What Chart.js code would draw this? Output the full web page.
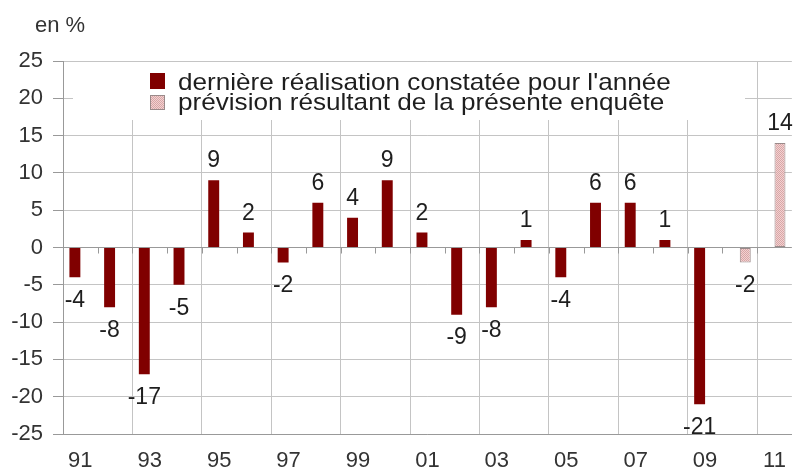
<!DOCTYPE html>
<html lang="fr">
<head>
<meta charset="utf-8">
<title>en %</title>
<script src="https://cdn.jsdelivr.net/npm/chart.js@4.4.1/dist/chart.umd.min.js"></script>
<style>
  html, body { margin: 0; padding: 0; background: #fff; overflow: hidden; }
  #cadre { width: 800px; height: 472px; }
</style>
</head>
<body>
<div id="cadre"><canvas id="graphique" width="800" height="472"></canvas></div>
<script>
// années (libellé affiché une année sur deux)
const annees = ['91', '92', '93', '94', '95', '96', '97', '98', '99', '00', '01',
                '02', '03', '04', '05', '06', '07', '08', '09', '10', '11'];
// dernière réalisation constatée pour l'année
const realisation = [-4, -8, -17, -5, 9, 2, -2, 6, 4, 9, 2, -9, -8, 1, -4, 6, 6, 1, -21, null, null];
// prévision résultant de la présente enquête
const prevision = [null, null, null, null, null, null, null, null, null, null, null,
                   null, null, null, null, null, null, null, null, -2, 14];
// graduations de l'axe vertical
const graduations = [-25, -20, -15, -10, -5, 0, 5, 10, 15, 20, 25];
const legendes = ["dernière réalisation constatée pour l'année",
                  'prévision résultant de la présente enquête'];

const police = '"Liberation Sans", Arial, sans-serif';
Chart.defaults.font.family = police;

// motif pointillé rose pour la prévision
const pc = document.createElement('canvas');
pc.width = 2; pc.height = 2;
const pctx = pc.getContext('2d');
pctx.fillStyle = '#f2d2d2';
pctx.fillRect(0, 0, 2, 2);
pctx.fillStyle = '#d9a6a6';
pctx.fillRect(0, 0, 1, 1);
pctx.fillRect(1, 1, 1, 1);
const motif = pctx.createPattern(pc, 'repeat');

// petites graduations sur la ligne du zéro + cartouche de légende
const decor = {
    id: 'decor',
    beforeDatasetsDraw(chart) {
        const ctx = chart.ctx;
        const x = chart.scales.x;
        const y0 = chart.scales.y.getPixelForValue(0);
        ctx.save();
        ctx.strokeStyle = '#999';
        ctx.lineWidth = 1;
        for (let i = 1; i < annees.length; i++) {
            const px = Math.round((x.getPixelForValue(i - 1) + x.getPixelForValue(i)) / 2) + 0.5;
            ctx.beginPath();
            ctx.moveTo(px, y0);
            ctx.lineTo(px, y0 + 6);
            ctx.stroke();
        }

        // cartouche blanc
        ctx.fillStyle = '#fff';
        ctx.fillRect(73, 62, 672, 58);
        ctx.fillStyle = '#800000';
        ctx.fillRect(150, 73, 15, 16);
        ctx.fillStyle = motif;
        ctx.fillRect(150, 95, 15, 15);
        ctx.strokeStyle = '#9a8a8a';
        ctx.strokeRect(150.5, 95.5, 14, 14);
        ctx.fillStyle = '#1e1e1e';
        ctx.font = '24px ' + police;
        ctx.textAlign = 'left';
        ctx.textBaseline = 'alphabetic';
        // texte un peu élargi comme sur l'original
        ctx.save();
        ctx.translate(178, 0);
        ctx.scale(1.088, 1);
        ctx.fillText(legendes[0], 0, 90);
        ctx.fillText(legendes[1], 0, 110);
        ctx.restore();

        ctx.font = '22px ' + police;
        ctx.fillStyle = '#333';
        ctx.fillText('en %', 35, 32);
        ctx.restore();
    }
};

// valeurs au bout des barres
const etiquettes = {
    id: 'etiquettes',
    afterDatasetsDraw(chart) {
        const ctx = chart.ctx;
        ctx.save();
        ctx.font = '23px ' + police;
        ctx.fillStyle = '#1e1e1e';
        ctx.textAlign = 'center';
        chart.data.datasets.forEach((ds, i) => {
            chart.getDatasetMeta(i).data.forEach((barre, j) => {
                const v = ds.data[j];
                if (v === null) return;
                if (v >= 0) {
                    ctx.textBaseline = 'alphabetic';
                    ctx.fillText(String(v), barre.x, barre.y - 13);
                } else {
                    ctx.textBaseline = 'top';
                    ctx.fillText(String(v), barre.x, barre.y + 12);
                }
            });
        });
        ctx.restore();
    }
};

new Chart(document.getElementById('graphique'), {
    type: 'bar',
    data: {
        labels: annees,
        datasets: [{
            label: legendes[0],
            data: realisation,
            backgroundColor: '#800000',
            barPercentage: 1,
            categoryPercentage: 0.63
        }, {
            label: legendes[1],
            data: prevision,
            backgroundColor: motif,
            borderColor: '#9a8a8a',
            borderWidth: 1,
            borderSkipped: false,
            barPercentage: 1,
            categoryPercentage: 0.63
        }]
    },
    options: {
        responsive: false,
        animation: false,
        layout: { padding: { top: 61, right: 3, left: 0, bottom: 0 } },
        plugins: {
            legend: { display: false },
            tooltip: { enabled: false }
        },
        scales: {
            x: {
                afterFit(s) { s.height = 38; },
                grid: {
                    offset: true,
                    drawTicks: false,
                    color: c => c.index % 2 === 0 ? '#c4c4c4' : 'rgba(0,0,0,0)'
                },
                border: { color: '#999' },
                ticks: {
                    autoSkip: false,
                    maxRotation: 0,
                    padding: 14,
                    color: '#333',
                    font: { size: 22 },
                    callback: (v, i) => i % 2 === 0 ? annees[i] : ''
                }
            },
            y: {
                min: -25,
                max: 25,
                afterFit(s) { s.width = 63; },
                afterBuildTicks(s) { s.ticks = graduations.map(v => ({ value: v })); },
                grid: {
                    color: c => c.tick && c.tick.value === 0 ? '#999' : '#c4c4c4',
                    tickColor: '#999',
                    tickLength: 10
                },
                border: { color: '#999' },
                ticks: {
                    padding: 10,
                    color: '#333',
                    font: { size: 22 }
                }
            }
        }
    },
    plugins: [decor, etiquettes]
});
</script>
</body>
</html>
